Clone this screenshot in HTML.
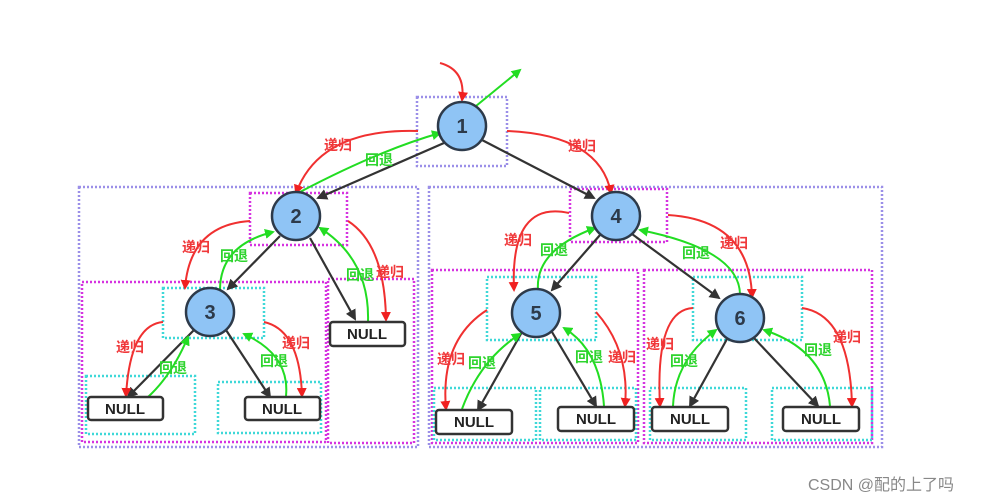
<!DOCTYPE html>
<html><head><meta charset="utf-8"><style>
html,body{margin:0;padding:0;background:#fff;width:993px;height:503px;overflow:hidden}
svg text{font-family:"Liberation Sans","Noto Sans CJK SC",sans-serif}
.lb{font-size:14px;font-weight:bold}
.r{fill:#f0383a}.g{fill:#2ed42e}
</style></head><body>
<svg width="993" height="503" viewBox="0 0 993 503" xmlns="http://www.w3.org/2000/svg">
<defs>
<marker id="ar" markerWidth="10" markerHeight="10" refX="8" refY="5" orient="auto" markerUnits="userSpaceOnUse"><path d="M0,0 L10,5 L0,10 z" fill="#f02020"/></marker>
<marker id="ag" markerWidth="10" markerHeight="10" refX="8" refY="5" orient="auto" markerUnits="userSpaceOnUse"><path d="M0,0 L10,5 L0,10 z" fill="#22dd22"/></marker>
<marker id="ak" markerWidth="11" markerHeight="11" refX="9" refY="5.5" orient="auto" markerUnits="userSpaceOnUse"><path d="M0,0 L11,5.5 L0,11 z" fill="#333"/></marker>
</defs>
<g fill="none" stroke-width="2.5" stroke-dasharray="2,2">
<g stroke="#9b8fe8">
<rect x="417" y="97" width="90" height="69"/>
<rect x="79" y="187" width="339" height="260"/>
<rect x="429" y="187" width="453" height="260"/>
</g>
<g stroke="#d633e0">
<rect x="250" y="193" width="97" height="52"/>
<rect x="570" y="189" width="97" height="53"/>
<rect x="82" y="282" width="244" height="160"/>
<rect x="328" y="279" width="86" height="164"/>
<rect x="432" y="270" width="206" height="173"/>
<rect x="644" y="270" width="228" height="173"/>
</g>
<g stroke="#3fd8d8">
<rect x="163" y="288" width="101" height="50"/>
<rect x="86" y="376" width="109" height="58"/>
<rect x="218" y="382" width="103" height="51"/>
<rect x="487" y="277" width="109" height="63"/>
<rect x="693" y="277" width="109" height="63"/>
<rect x="434" y="388" width="102" height="52"/>
<rect x="540" y="388" width="96" height="52"/>
<rect x="650" y="388" width="96" height="52"/>
<rect x="772" y="388" width="100" height="52"/>
</g>
</g>
<g stroke="#333" stroke-width="2.2" fill="none" marker-end="url(#ak)">
<line x1="444" y1="143" x2="318" y2="198"/>
<line x1="482" y1="140" x2="594" y2="198"/>
<line x1="280" y1="236" x2="228" y2="289"/>
<line x1="310" y1="238" x2="355" y2="319"/>
<line x1="194" y1="330" x2="128" y2="397"/>
<line x1="226" y1="330" x2="270" y2="397"/>
<line x1="600" y1="235" x2="552" y2="290"/>
<line x1="632" y1="234" x2="719" y2="298"/>
<line x1="522" y1="332" x2="478" y2="410"/>
<line x1="552" y1="332" x2="596" y2="406"/>
<line x1="727" y1="339" x2="690" y2="406"/>
<line x1="754" y1="338" x2="818" y2="406"/>
</g>
<g stroke="#f03030" stroke-width="2" fill="none" marker-end="url(#ar)">
<path d="M440,63 Q466,70 462,100"/>
<path d="M418,131 Q320,128 296,193"/>
<path d="M507,131 Q600,135 611,193"/>
<path d="M250,221 Q190,225 185,288"/>
<path d="M348,221 Q385,245 386,320"/>
<path d="M163,322 Q130,325 126,396"/>
<path d="M264,322 Q300,330 302,396"/>
<path d="M569,213 Q510,200 514,290"/>
<path d="M668,215 Q750,220 752,297"/>
<path d="M487,310 Q440,340 446,409"/>
<path d="M596,312 Q630,350 625,406"/>
<path d="M693,308 Q655,310 660,406"/>
<path d="M802,308 Q850,315 852,406"/>
</g>
<g stroke="#22dd22" stroke-width="2" fill="none" marker-end="url(#ag)">
<path d="M476,106 L520,70"/>
<path d="M300,192 Q380,150 440,133"/>
<path d="M220,290 Q220,245 273,232"/>
<path d="M368,322 Q370,260 320,228"/>
<path d="M148,397 Q172,375 188,337"/>
<path d="M286,396 Q290,355 244,334"/>
<path d="M538,290 Q535,250 595,228"/>
<path d="M740,295 Q740,250 640,230"/>
<path d="M462,409 Q480,360 520,334"/>
<path d="M604,406 Q600,350 564,328"/>
<path d="M673,406 Q675,360 716,330"/>
<path d="M830,406 Q825,350 764,330"/>
</g>
<g stroke="#2d3a4a" stroke-width="2.5" fill="#8fc4f5">
<circle cx="462" cy="126" r="24"/>
<circle cx="296" cy="216" r="24"/>
<circle cx="210" cy="312" r="24"/>
<circle cx="616" cy="216" r="24"/>
<circle cx="536" cy="313" r="24"/>
<circle cx="740" cy="318" r="24"/>
</g>
<g font-size="20" font-weight="bold" fill="#2d3a4a" text-anchor="middle">
<text x="462" y="133">1</text><text x="296" y="223">2</text><text x="210" y="319">3</text>
<text x="616" y="223">4</text><text x="536" y="320">5</text><text x="740" y="325">6</text>
</g>
<g stroke="#333" stroke-width="2.5" fill="#fff">
<rect x="88" y="397" width="75" height="23" rx="3"/>
<rect x="245" y="397" width="75" height="23" rx="3"/>
<rect x="330" y="322" width="75" height="24" rx="3"/>
<rect x="436" y="410" width="76" height="24" rx="3"/>
<rect x="558" y="407" width="76" height="24" rx="3"/>
<rect x="652" y="407" width="76" height="24" rx="3"/>
<rect x="783" y="407" width="76" height="24" rx="3"/>
</g>
<g font-size="15" font-weight="bold" fill="#222" text-anchor="middle">
<text x="125" y="414">NULL</text><text x="282" y="414">NULL</text><text x="367" y="339">NULL</text>
<text x="474" y="427">NULL</text><text x="596" y="424">NULL</text><text x="690" y="424">NULL</text><text x="821" y="424">NULL</text>
</g>
<g class="lb">
<text class="r" x="324" y="150">递归</text><text class="g" x="365" y="165">回退</text>
<text class="r" x="568" y="151">递归</text>
<text class="r" x="182" y="252">递归</text><text class="g" x="220" y="261">回退</text>
<text class="g" x="346" y="280">回退</text><text class="r" x="376" y="277">递归</text>
<text class="r" x="116" y="352">递归</text><text class="g" x="159" y="373">回退</text>
<text class="r" x="282" y="348">递归</text><text class="g" x="260" y="366">回退</text>
<text class="r" x="504" y="245">递归</text><text class="g" x="540" y="255">回退</text>
<text class="r" x="720" y="248">递归</text><text class="g" x="682" y="258">回退</text>
<text class="r" x="437" y="364">递归</text><text class="g" x="468" y="368">回退</text>
<text class="g" x="575" y="362">回退</text><text class="r" x="608" y="362">递归</text>
<text class="r" x="646" y="349">递归</text><text class="g" x="670" y="366">回退</text>
<text class="g" x="804" y="355">回退</text><text class="r" x="833" y="342">递归</text>
</g>
<text x="808" y="490" font-size="16" fill="#888">CSDN @配的上了吗</text>
</svg>
</body></html>
